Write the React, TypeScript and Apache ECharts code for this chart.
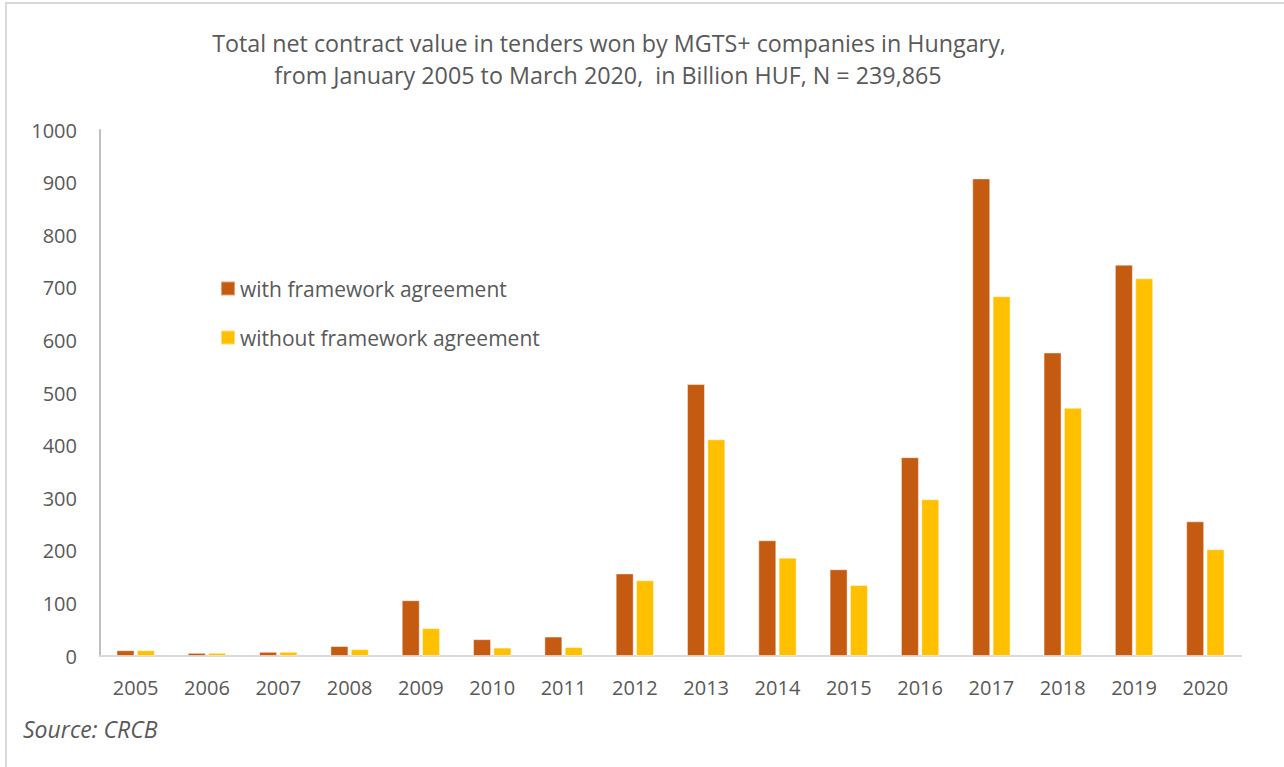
import React, { useEffect, useRef } from "react";
import * as echarts from "echarts";

const years = ["2005","2006","2007","2008","2009","2010","2011","2012","2013","2014","2015","2016","2017","2018","2019","2020"];
const withFramework = [11, 6, 8, 19, 106, 32, 37, 157, 517, 220, 165, 378, 908, 577, 744, 256];
const withoutFramework = [11, 6, 8, 13, 53, 16, 17, 144, 412, 187, 135, 298, 684, 472, 718, 203];
const seriesNames = ["with framework agreement", "without framework agreement"];
const titleLines = [
  "Total net contract value in tenders won by MGTS+ companies in Hungary,",
  "from January 2005 to March 2020,  in Billion HUF, N = 239,865",
];
const sourceText = "Source: CRCB";

const FONT = "'Open Sans', 'Noto Sans', sans-serif";
const TXT = "#595959";

export default function App() {
  const ref = useRef<HTMLDivElement>(null);
  useEffect(() => {
    if (!ref.current) return;
    const chart = echarts.init(ref.current, undefined, { renderer: "svg" });
    chart.setOption({
      animation: false,
      backgroundColor: "#ffffff",
      textStyle: { fontFamily: FONT },
      grid: { left: 100, right: 43, top: 130, bottom: 111, containLabel: false },
      legend: {
        orient: "vertical",
        left: 215,
        top: 273,
        itemWidth: 14,
        itemHeight: 14,
        itemGap: 28,
        icon: "rect",
        data: seriesNames,
        textStyle: { color: TXT, fontSize: 21, fontFamily: FONT },
      },
      xAxis: {
        type: "category",
        data: years,
        axisLine: { show: true, lineStyle: { color: "#D9D9D9", width: 2 } },
        axisTick: { show: false },
        axisLabel: { color: TXT, fontSize: 20, margin: 21, fontFamily: FONT },
      },
      yAxis: {
        type: "value",
        min: 0,
        max: 1000,
        interval: 100,
        axisLine: { show: true, lineStyle: { color: "#BFBFBF", width: 2 } },
        axisTick: { show: false },
        splitLine: { show: false },
        axisLabel: { color: TXT, fontSize: 20, margin: 23, fontFamily: FONT, formatter: (v: number) => String(v) },
      },
      series: [
        {
          name: seriesNames[0],
          type: "bar",
          data: withFramework,
          barWidth: 18,
          barGap: "13%",
          itemStyle: { color: "#C55A11", borderColor: "rgba(255,255,255,0.45)", borderWidth: 1 },
        },
        {
          name: seriesNames[1],
          type: "bar",
          data: withoutFramework,
          barWidth: 18,
          barGap: "13%",
          itemStyle: { color: "#FFC000", borderColor: "rgba(255,255,255,0.45)", borderWidth: 1 },
        },
      ],
      graphic: [
        {
          type: "rect",
          shape: { x: 6, y: 3, width: 1300, height: 800 },
          style: { fill: "none", stroke: "#D9D9D9", lineWidth: 2 },
          silent: true,
        },
        {
          type: "text",
          x: 609,
          y: 43,
          style: { text: titleLines[0], fill: TXT, font: `23.3px ${FONT}`, textAlign: "center", textVerticalAlign: "middle" },
        },
        {
          type: "text",
          x: 608,
          y: 75,
          style: { text: titleLines[1], fill: TXT, font: `23.3px ${FONT}`, textAlign: "center", textVerticalAlign: "middle" },
        },
        {
          type: "text",
          x: 23,
          y: 729,
          style: { text: sourceText, fill: TXT, font: `italic 23px ${FONT}`, textAlign: "left", textVerticalAlign: "middle" },
        },
      ],
    });
    return () => chart.dispose();
  }, []);
  return <div ref={ref} style={{ position: "fixed", left: 0, top: 0, width: 1284, height: 767 }} />;
}
